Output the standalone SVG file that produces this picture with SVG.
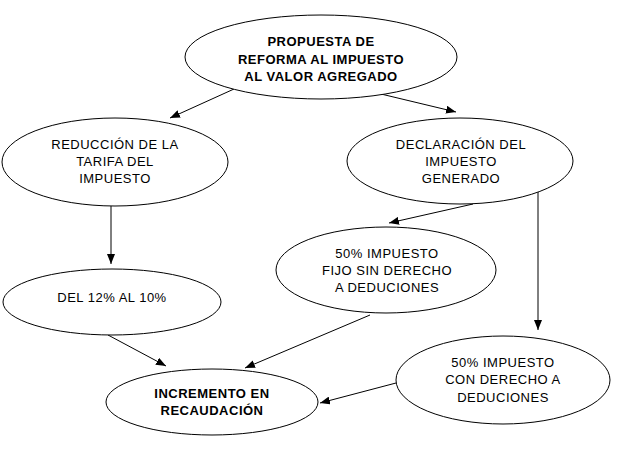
<svg xmlns="http://www.w3.org/2000/svg" width="627" height="458" viewBox="0 0 627 458">
<defs>
<marker id="ah" markerWidth="10" markerHeight="8" refX="10" refY="4" orient="auto" markerUnits="userSpaceOnUse">
<path d="M0,0 L10,4 L0,8 Z" fill="#000"/>
</marker>
<style>
.n ellipse{fill:#fff;stroke:#000;stroke-width:1}
.n text{font-family:"Liberation Sans",Arial,sans-serif;font-size:13px;letter-spacing:0.5px;text-anchor:middle;fill:#000}
.b text{font-weight:bold}
.c line{stroke:#000;stroke-width:1;marker-end:url(#ah)}
</style>
</defs>
<rect width="627" height="458" fill="#fff"/>
<g id="connectors" class="c">
<line x1="234" y1="89" x2="170" y2="118"/>
<line x1="381" y1="94" x2="456" y2="112"/>
<line x1="111" y1="206" x2="111" y2="264"/>
<line x1="473" y1="204" x2="389" y2="223"/>
<line x1="538" y1="191" x2="538" y2="330"/>
<line x1="108" y1="335" x2="166" y2="366"/>
<line x1="370" y1="315" x2="245" y2="368"/>
<line x1="396" y1="383" x2="320" y2="403"/>
</g>
<g id="n-propuesta" class="n b">
<ellipse cx="321" cy="57" rx="136" ry="42"/>
<text x="321" y="46">PROPUESTA DE</text>
<text x="321" y="64">REFORMA AL IMPUESTO</text>
<text x="321" y="81">AL VALOR AGREGADO</text>
</g>
<g id="n-reduccion" class="n">
<ellipse cx="115" cy="162" rx="113" ry="44"/>
<text x="115" y="149">REDUCCIÓN DE LA</text>
<text x="115" y="166">TARIFA DEL</text>
<text x="115" y="183">IMPUESTO</text>
</g>
<g id="n-declaracion" class="n">
<ellipse cx="460" cy="161" rx="113" ry="43"/>
<text x="461" y="149">DECLARACIÓN DEL</text>
<text x="461" y="166">IMPUESTO</text>
<text x="461" y="183">GENERADO</text>
</g>
<g id="n-del12" class="n">
<ellipse cx="112" cy="302" rx="109" ry="33"/>
<text x="112" y="302">DEL 12% AL 10%</text>
</g>
<g id="n-fijo" class="n">
<ellipse cx="386" cy="270" rx="110" ry="43"/>
<text x="387" y="258">50% IMPUESTO</text>
<text x="387" y="275">FIJO SIN DERECHO</text>
<text x="387" y="292">A DEDUCIONES</text>
</g>
<g id="n-incremento" class="n b">
<ellipse cx="212" cy="402" rx="106" ry="33"/>
<text x="212" y="398">INCREMENTO EN</text>
<text x="212" y="415">RECAUDACIÓN</text>
</g>
<g id="n-conderecho" class="n">
<ellipse cx="503" cy="380" rx="107" ry="44"/>
<text x="503" y="367">50% IMPUESTO</text>
<text x="503" y="384">CON DERECHO A</text>
<text x="503" y="402">DEDUCIONES</text>
</g>
</svg>
